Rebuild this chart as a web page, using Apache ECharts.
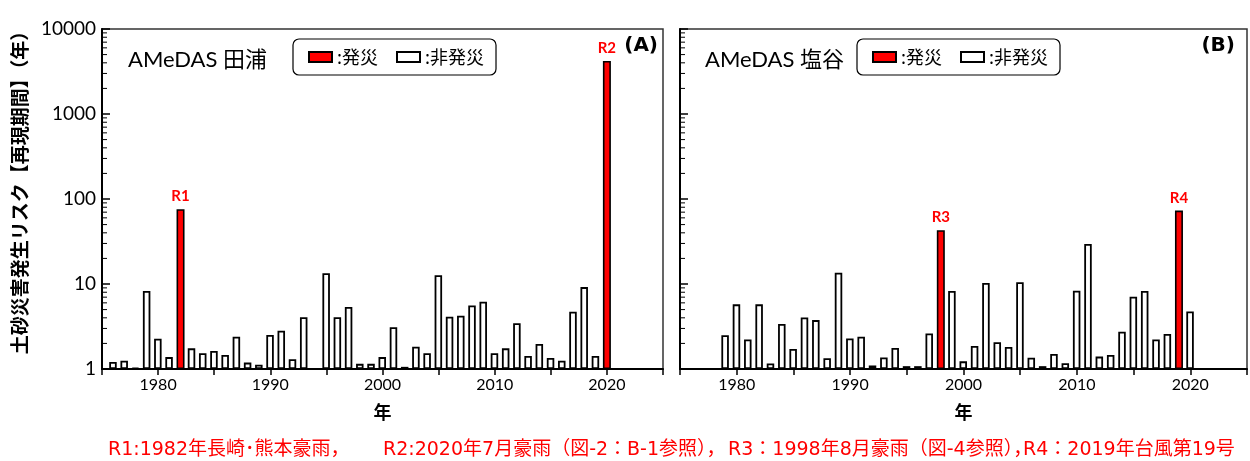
<!DOCTYPE html>
<html>
<head>
<meta charset="utf-8">
<script src="https://cdn.jsdelivr.net/npm/echarts@6/dist/echarts.min.js"></script>
<style>
html,body{margin:0;padding:0;background:#fff;}
#chart{width:1250px;height:461px;}
</style>
</head>
<body>
<div id="chart"></div>
<script>
// ---- Data ----
// Panel A: AMeDAS 田浦 (non-disaster years)
const yearsA = [1976,1977,1978,1979,1980,1981,1983,1984,1985,1986,1987,1988,1989,1990,1991,1992,1993,1995,1996,1997,1998,1999,2000,2001,2002,2003,2004,2005,2006,2007,2008,2009,2010,2011,2012,2013,2014,2015,2016,2017,2018,2019];
const valuesA = [1.21,1.25,1.03,8.3,2.27,1.38,1.75,1.53,1.63,1.46,2.4,1.19,1.12,2.51,2.82,1.3,4.06,13.4,4.06,5.36,1.15,1.15,1.38,3.1,1.06,1.83,1.53,12.7,4.12,4.24,5.6,6.2,1.53,1.75,3.45,1.42,1.97,1.35,1.25,4.72,9.2,1.42];
const disasterYearsA = [1982, 2020];
const disasterValuesA = [76, 4200];
const disasterLabelsA = ['R1', 'R2'];

// Panel B: AMeDAS 塩谷 (non-disaster years)
const yearsB = [1979,1980,1981,1982,1983,1984,1985,1986,1987,1988,1989,1990,1991,1992,1993,1994,1995,1996,1997,1999,2000,2001,2002,2003,2004,2005,2006,2007,2008,2009,2010,2011,2012,2013,2014,2015,2016,2017,2018,2020];
const valuesB = [2.5,5.76,2.23,5.76,1.16,3.38,1.72,4.04,3.76,1.34,13.6,2.29,2.4,1.1,1.37,1.77,1.08,1.08,2.62,8.3,1.23,1.87,10.3,2.06,1.82,10.5,1.36,1.08,1.5,1.17,8.35,29.6,1.4,1.46,2.75,7.1,8.3,2.23,2.58,4.74];
const disasterYearsB = [1998, 2019];
const disasterValuesB = [43, 73];
const disasterLabelsB = ['R3', 'R4'];

// Tick labels
const xTickLabels = [1980, 1990, 2000, 2010, 2020];
const yTickLabels = [1, 10, 100, 1000, 10000];
const minorTickValues = [2,3,4,5,6,7,8,9,20,30,40,50,60,70,80,90,200,300,400,500,600,700,800,900,2000,3000,4000,5000,6000,7000,8000,9000];

const panelTitles = ['AMeDAS 田浦', 'AMeDAS 塩谷'];
const panelTags = ['(A)', '(B)'];
const seriesNames = ['発災', '非発災'];
const yAxisName = '土砂災害発生リスク【再現期間】（年）';
const xAxisName = '年';
const notes = [
  'R1:1982年長崎･熊本豪雨，',
  'R2:2020年7月豪雨（図-2：B-1参照），',
  'R3：1998年8月豪雨（図-4参照），',
  'R4：2019年台風第19号'
];

// ---- Chart ----
const latin = 'Lato, "Noto Sans CJK JP", sans-serif';
const cjk = '"Noto Sans CJK JP", sans-serif';
const noteFont = '19px "DejaVu Sans", "Noto Sans CJK JP", sans-serif';

function pairs(xs, ys) { return xs.map((x, i) => [x, ys[i]]); }

function xAxisCfg(gi) {
  return {
    gridIndex: gi, type: 'value', min: 1975, max: 2025, interval: 5,
    axisLine: { onZero: false, lineStyle: { color: '#000', width: 2 } },
    axisTick: { show: true, length: 6, lineStyle: { color: '#000', width: 1.5 } },
    axisLabel: {
      formatter: v => xTickLabels.indexOf(v) >= 0 ? String(v) : '',
      fontSize: 16, fontFamily: latin, color: '#000', margin: 8
    },
    splitLine: { show: false },
    name: xAxisName, nameLocation: 'middle', nameGap: 34,
    nameTextStyle: { fontSize: 18, fontWeight: 'bold', fontFamily: cjk, color: '#000' }
  };
}
function yAxisCfg(gi, showLabels) {
  return {
    gridIndex: gi, type: 'log', logBase: 10, min: 1, max: 10000,
    axisLine: { show: true, onZero: false, lineStyle: { color: '#000', width: 2 } },
    axisTick: { show: true, inside: true, length: 8, lineStyle: { color: '#000', width: 1.5 } },
    axisLabel: {
      show: showLabels,
      formatter: v => yTickLabels.indexOf(Math.round(v)) >= 0 ? String(Math.round(v)) : '',
      fontSize: 19, fontFamily: latin, color: '#000', margin: 6
    },
    splitLine: { show: false }
  };
}
function minorTicks(gi) {
  return {
    type: 'custom', xAxisIndex: gi, yAxisIndex: gi, silent: true, z: 5,
    data: minorTickValues.map(v => [1975, v]),
    renderItem: (params, api) => {
      const p = api.coord([api.value(0), api.value(1)]);
      return { type: 'line', shape: { x1: p[0], y1: p[1], x2: p[0] + 5, y2: p[1] },
               style: { stroke: '#000', lineWidth: 1 } };
    }
  };
}
function nonDisasterSeries(gi, xs, ys) {
  return {
    name: seriesNames[1], type: 'bar', xAxisIndex: gi, yAxisIndex: gi,
    barWidth: 7.5, barGap: '-100%',
    itemStyle: { color: '#fff', borderColor: '#000', borderWidth: 1.8 },
    data: pairs(xs, ys)
  };
}
function disasterSeries(gi, xs, ys, labels) {
  return {
    name: seriesNames[0], type: 'bar', xAxisIndex: gi, yAxisIndex: gi,
    barWidth: 8, barGap: '-100%',
    itemStyle: { color: '#ff0000', borderColor: '#000', borderWidth: 1.6 },
    label: {
      show: true, position: 'top', distance: 5,
      formatter: p => labels[p.dataIndex],
      color: '#ff0000', fontWeight: 'bold', fontSize: 15, fontFamily: latin
    },
    data: pairs(xs, ys)
  };
}
function legendCfg(left) {
  return {
    left: left, top: 39, orient: 'horizontal',
    data: seriesNames, icon: 'rect', itemWidth: 23, itemHeight: 10, itemGap: 18,
    selectedMode: false,
    formatter: n => ':' + n,
    textStyle: { fontSize: 18, fontFamily: cjk, color: '#000' },
    borderColor: '#000', borderWidth: 1.2, borderRadius: 6,
    padding: [9, 12, 9, 15], backgroundColor: '#fff'
  };
}
function txt(x, y, text, opts) {
  return {
    type: 'text', x: x, y: y, silent: true,
    style: Object.assign({ text: text, fill: '#000', textVerticalAlign: 'middle' }, opts)
  };
}

const option = {
  animation: false,
  backgroundColor: '#fff',
  grid: [
    { left: 102, right: 587, top: 29, bottom: 92, show: true, borderColor: '#333', borderWidth: 1.5 },
    { left: 680, right: 3, top: 29, bottom: 92, show: true, borderColor: '#333', borderWidth: 1.5 }
  ],
  xAxis: [xAxisCfg(0), xAxisCfg(1)],
  yAxis: [yAxisCfg(0, true), yAxisCfg(1, false)],
  legend: [legendCfg(293), legendCfg(857)],
  series: [
    nonDisasterSeries(0, yearsA, valuesA),
    disasterSeries(0, disasterYearsA, disasterValuesA, disasterLabelsA),
    nonDisasterSeries(1, yearsB, valuesB),
    disasterSeries(1, disasterYearsB, disasterValuesB, disasterLabelsB),
    minorTicks(0), minorTicks(1)
  ],
  graphic: [
    Object.assign(txt(20, 188, yAxisName, { textAlign: 'center', font: 'bold 19px ' + cjk }), { rotation: Math.PI / 2 }),
    txt(128, 60, panelTitles[0], { textAlign: 'left', font: '22px ' + latin }),
    txt(705, 60, panelTitles[1], { textAlign: 'left', font: '22px ' + latin }),
    txt(658, 46, panelTags[0], { textAlign: 'right', font: 'bold 20px "DejaVu Sans", sans-serif' }),
    txt(1235, 46, panelTags[1], { textAlign: 'right', font: 'bold 20px "DejaVu Sans", sans-serif' }),
    txt(108, 450, notes[0], { textAlign: 'left', fill: '#ff0000', font: noteFont }),
    txt(383, 450, notes[1], { textAlign: 'left', fill: '#ff0000', font: noteFont }),
    txt(728, 450, notes[2], { textAlign: 'left', fill: '#ff0000', font: noteFont }),
    txt(1023, 450, notes[3], { textAlign: 'left', fill: '#ff0000', font: noteFont })
  ]
};

const chart = echarts.init(document.getElementById('chart'), null, { renderer: 'canvas' });
chart.setOption(option);
</script>
</body>
</html>
